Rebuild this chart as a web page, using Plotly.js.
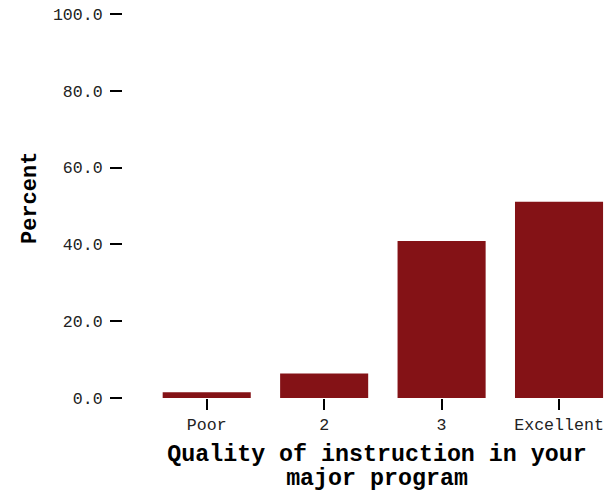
<!DOCTYPE html>
<html>
<head>
<meta charset="utf-8">
<script src="https://cdn.plot.ly/plotly-3.0.1.min.js"></script>
<style>html,body{margin:0;padding:0;background:#fff;}#chart{width:616px;height:492px;}</style>
</head>
<body>
<div id="chart"></div>
<script>
var categories = ["Poor", "2", "3", "Excellent"];
var percents = [1.5, 6.4, 40.9, 51.1];
var yTicks = [0, 20, 40, 60, 80, 100];

var W = 616, H = 492;
var mL = 0, mR = 10, mT = 14, mB = 94;
var pw = W - mL - mR;
var ph = H - mT - mB;
var font = "Courier New, Liberation Mono, monospace";

var trace = {
  type: "bar",
  x: categories,
  y: percents,
  marker: {color: "#841216"},
  hoverinfo: "x+y"
};

var layout = {
  width: W, height: H,
  margin: {l: mL, r: mR, t: mT, b: mB, pad: 0},
  paper_bgcolor: "#fff", plot_bgcolor: "#fff",
  showlegend: false,
  bargap: 0.25,
  font: {family: font, color: "#222", size: 16.6},
  xaxis: {
    domain: [148 / pw, 1],
    type: "category",
    range: [-0.5, 3.4],
    showgrid: false, zeroline: false, showline: false,
    ticks: "outside", ticklen: 11, tickwidth: 2, tickcolor: "#000",
    tickfont: {family: font, size: 16.6, color: "#222"},
    title: {
      text: "<b><span style='font-size:23.3px'>Quality of instruction in your</span><br><span style='font-size:23.3px'>major program</span></b>",
      font: {family: font, size: 18.5, color: "#000"},
      standoff: 17
    }
  },
  yaxis: {
    anchor: "free",
    position: 122 / pw,
    range: [0, 100],
    tickvals: yTicks,
    tickformat: ".1f",
    showgrid: false, zeroline: false, showline: false,
    ticks: "outside", ticklen: 12, tickwidth: 2, tickcolor: "#000",
    ticklabelstandoff: 4,
    tickfont: {family: font, size: 16.6, color: "#222"}
  },
  annotations: [{
    text: "<b>Percent</b>",
    xref: "paper", yref: "paper",
    x: 30 / pw, y: (H - mB - 198) / ph,
    xanchor: "center", yanchor: "middle",
    textangle: -90, showarrow: false,
    font: {family: font, size: 22, color: "#000"}
  }]
};

Plotly.newPlot("chart", [trace], layout, {displayModeBar: false, staticPlot: true});
</script>
</body>
</html>
